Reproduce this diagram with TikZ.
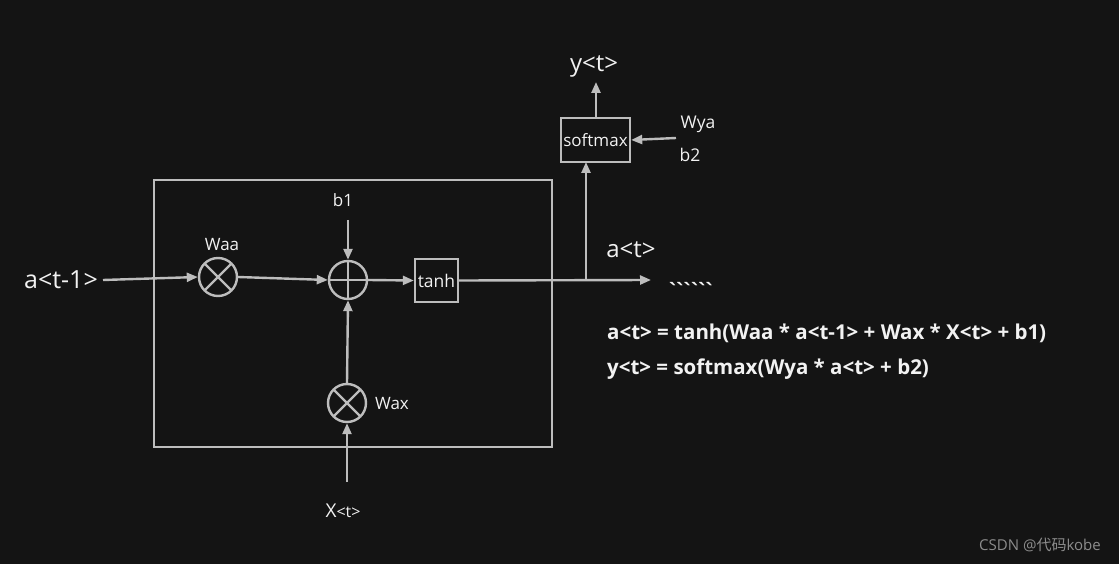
\documentclass[tikz,border=0pt]{standalone}
\usepackage{fontspec}
\setmainfont{Open Sans}
\newfontfamily\plainfont{Liberation Sans}
\newfontfamily\cjk{Noto Sans CJK SC}
\usetikzlibrary{arrows.meta}
\definecolor{bg}{HTML}{141414}
\definecolor{ln}{HTML}{BDBDBD}
\definecolor{tx}{HTML}{F2F2F2}
\definecolor{wm}{HTML}{8C8C8C}
\begin{document}
\begin{tikzpicture}[x=1pt,y=-1pt,
  line/.style={draw=ln,line width=2.4pt},
  arr/.style={line,-{Triangle[length=11pt,width=9pt]}},
  opnode/.style={circle,draw=ln,line width=2.4pt,minimum size=38pt,inner sep=0pt},
  boxnode/.style={draw=ln,line width=2.4pt,text=tx,inner sep=0pt,font=\fontsize{17}{19}\selectfont},
  lbl/.style={text=tx,inner sep=0pt,font=\fontsize{17}{19}\selectfont},
  big/.style={text=tx,inner sep=0pt,font=\fontsize{24}{26}\selectfont},
  eq/.style={text=tx,inner sep=0pt,anchor=west,font=\bfseries\fontsize{20.5}{22}\selectfont}]
\fill[bg] (0,0) rectangle (1119,564);
\useasboundingbox (0,0) rectangle (1119,564);
% outer cell box
\node[draw=ln,line width=2.4pt,minimum width=398pt,minimum height=267pt,inner sep=0pt] (cell) at (353,313.5) {};
% nodes
\node[big,font=\fontsize{25}{27}\selectfont] (ain) at (61,280) {a<t-1>};
\node[opnode] (waa) at (218,277) {};
\draw[ln,line width=2.4pt] ([shift={(-13.4,-13.4)}]waa.center) -- ([shift={(13.4,13.4)}]waa.center)
  ([shift={(13.4,-13.4)}]waa.center) -- ([shift={(-13.4,13.4)}]waa.center);
\node[lbl] (waal) at (222,245) {Waa};
\node[opnode] (plus) at (348,280) {};
\draw[ln,line width=2.4pt] (plus.north) -- (plus.south) (plus.west) -- (plus.east);
\node[lbl] (b1) at (343,200) {b1};
\coordinate (b1s) at (348,220);
\node[boxnode,minimum width=43pt,minimum height=43pt,font=\fontsize{17.5}{19}\selectfont] (tanh) at (436.5,280.5) {tanh};
\coordinate (split) at (586,280);
\coordinate (aend) at (651,280);
\node[big] (al) at (631,250) {a<t>};
\node[text=tx,inner sep=0pt,font=\plainfont\bfseries\fontsize{22}{24}\selectfont] (dots) at (691,290) {``````};
\node[boxnode,minimum width=69pt,minimum height=44pt] (soft) at (595.5,140) {softmax};
\node[big] (yl) at (594,66) {y<t>};
\coordinate (ytop) at (596,82);
\node[lbl,font=\fontsize{17.5}{19}\selectfont] (wya) at (698,124) {Wya};
\node[lbl,font=\fontsize{17.5}{19}\selectfont] (b2) at (690,155) {b2};
\coordinate (wyas) at (676,138);
\node[opnode] (wax) at (347,403) {};
\draw[ln,line width=2.4pt] ([shift={(-13.4,-13.4)}]wax.center) -- ([shift={(13.4,13.4)}]wax.center)
  ([shift={(13.4,-13.4)}]wax.center) -- ([shift={(-13.4,13.4)}]wax.center);
\node[lbl] (waxl) at (392,404) {Wax};
\node[text=tx,inner sep=0pt,anchor=base] (xin) at (343,517) {\fontsize{19}{21}\selectfont X\fontsize{16}{18}\selectfont<t>};
\coordinate (xs) at (347,482);
% connectors
\draw[arr] (103,280) -- (waa.west);
\draw[arr] (waa.east) -- (plus.west);
\draw[arr] (b1s) -- (plus.north);
\draw[arr] (plus.east) -- (tanh.west);
\draw[arr] (tanh.east) -- (aend);
\draw[arr] (586,278.8) -- (586,162);
\draw[arr] (soft.north -| ytop) -- (ytop);
\draw[arr] (wyas) -- (soft.east);
\draw[arr] (xs) -- (wax.south);
\draw[arr] (wax.north) -- (plus.south);
% equations
\node[eq] (eq1) at (607,333) {a<t> = tanh(Waa * a<t-1> + Wax * X<t> + b1)};
\node[eq] (eq2) at (607,369) {y<t> = softmax(Wya * a<t> + b2)};
% watermark
\node[text=wm,inner sep=0pt,font=\fontsize{15}{17}\selectfont] (wmk) at (1040,545) {CSDN @{\cjk 代码}kobe};
\end{tikzpicture}
\end{document}
